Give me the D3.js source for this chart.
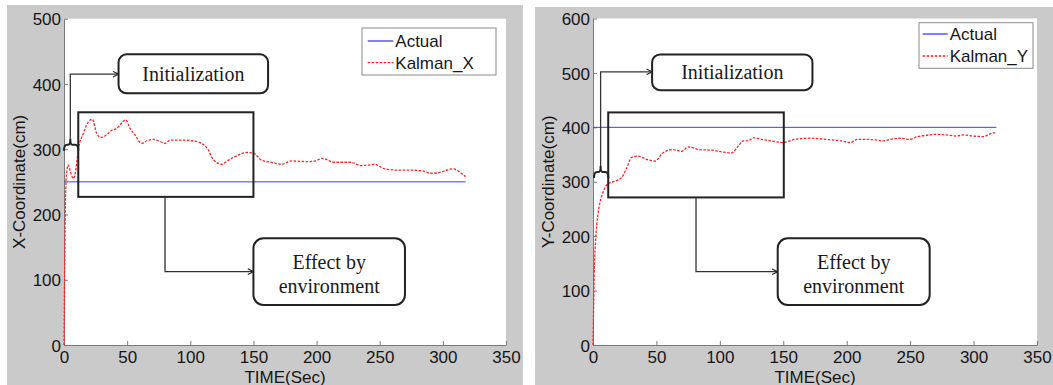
<!DOCTYPE html>
<html>
<head>
<meta charset="utf-8">
<script src="https://cdn.jsdelivr.net/npm/d3@7"></script>
<style>
  body { margin: 0; background: #fff; }
  svg { display: block; }
  .tick text { font-family: "Liberation Sans", Arial, sans-serif; font-size: 17px; fill: #161616; }
  .axis path, .axis line { stroke: #7a7a7a; }
  .lbl { font-family: "Liberation Sans", Arial, sans-serif; font-size: 17px; fill: #161616; }
  .note { font-family: "Liberation Serif", "Times New Roman", serif; font-size: 20px; fill: #1a1a1a; }
</style>
</head>
<body>
<svg id="chart" width="1053" height="385"></svg>
<script>
// ---- data ----
const xTicks = [0, 50, 100, 150, 200, 250, 300, 350];
const yTicksX = [0, 100, 200, 300, 400, 500];
const yTicksY = [0, 100, 200, 300, 400, 500, 600];

const actualTime = [0, 318];
const actualX = [250, 250];
const actualY = [400, 400];

const timeX = [0, 0.5, 1, 1.5, 2, 3.4, 5, 7.4, 9.5, 11.3, 15.3, 19.3, 22.4, 25.9, 29.3, 33.8,
  37.7, 41.7, 44.3, 48.8, 52.3, 56.2, 61.5, 65.5, 70.7, 76, 80, 84, 93.2, 101, 109, 114.3,
  118.2, 124.8, 130, 136.7, 144.6, 150, 156.5, 164.4, 172.3, 180.3, 193.4, 199, 204.4, 213.7,
  227, 235, 243, 245.7, 253.8, 264.4, 272.4, 283, 291.3, 296.5, 302, 307.3, 312.6, 315.3, 318];
const kalmanX = [0, 110, 200, 245, 262, 276, 266, 255, 270, 299, 324, 342, 346, 324, 318, 322,
  329, 332, 337, 345, 332, 322, 309, 313, 315, 312, 309, 314, 314, 313, 309, 299,
  284, 277, 283, 290, 295, 294, 283, 280, 277, 282, 281, 282, 286, 280,
  280, 275, 276, 277, 270, 268, 268, 267, 263, 264, 267, 270, 266, 262, 258];

const timeY = [0, 0.3, 0.7, 1.2, 2, 3, 4.2, 5.5, 8.1, 12.1, 17.3, 22.6, 26.5, 30.5, 35.7,
  42.3, 48.9, 54.6, 62.5, 69.9, 75.2, 84.3, 93.6, 101.4, 109.3, 114.6, 118.5, 122.4, 126.4,
  133, 140.9, 150, 159.2, 172.4, 182.9, 196, 202.8, 208.2, 212, 222.8, 228, 234.8, 241.4,
  249.4, 256, 265.4, 269.4, 278.7, 286.7, 292, 300, 308, 312, 316, 318];
const kalmanY = [0, 40, 100, 150, 190, 222, 245, 262, 282, 297, 301, 308, 325, 345, 347,
  341, 338, 352, 359, 356, 364, 359, 358, 355, 353, 366, 375, 375, 381,
  378, 375, 372, 378, 380, 378, 375, 372, 378, 378, 377, 375, 378, 380,
  378, 383, 386, 387, 386, 384, 386, 384, 383, 387, 390, 388];

// ---- panel setup ----
const panels = [
  {
    bg: { x: 7, y: 5, w: 516, h: 380 },
    plot: { x0: 64, x1: 506, y0: 18.7, y1: 345 },
    yMax: 500, yTicks: yTicksX,
    ylabel: 'X-Coordinate(cm)', ylabelX: 19,
    actual: actualX, est: kalmanX, estTime: timeX, estName: 'Kalman_X',
    legend: { x: 362, y: 28, w: 134, h: 47, l0: 367.7, l1: 393.3, r1: 41, r2: 62.7 },
    note: {
      bracket: { t0: 0, t1: 11.3, tm: 5, v: 307 }, initTop: 415,
      initBox: { t0: 43.2, t1: 161.6, v0: 385.7, v1: 445.4 },
      effRect: { t0: 11.3, t1: 150, v0: 227, v1: 356.6 },
      effLine: { t: 80, v: 112.4 },
      effBox: { t0: 150, t1: 270, v0: 61.3, v1: 163.5 }
    }
  },
  {
    bg: { x: 535, y: 7, w: 518, h: 378 },
    plot: { x0: 593, x1: 1037, y0: 18.5, y1: 345 },
    yMax: 600, yTicks: yTicksY,
    ylabel: 'Y-Coordinate(cm)', ylabelX: 548,
    actual: actualY, est: kalmanY, estTime: timeY, estName: 'Kalman_Y',
    legend: { x: 919, y: 22.7, w: 114, h: 45.6, l0: 922.7, l1: 947.7, r1: 34, r2: 56 },
    note: {
      bracket: { t0: 0.8, t1: 12.1, tm: 6, v: 318 }, initTop: 502,
      initBox: { t0: 46.6, t1: 173, v0: 468.3, v1: 533.9 },
      effRect: { t0: 12, t1: 150.4, v0: 271.2, v1: 427.4 },
      effLine: { t: 81.2, v: 134.7 },
      effBox: { t0: 145.6, t1: 265.4, v0: 73.5, v1: 196 }
    }
  }
];

const svg = d3.select('#chart');

const defs = svg.append('defs');
defs.append('marker')
  .attr('id', 'arr')
  .attr('viewBox', '0 0 10 10')
  .attr('refX', 9).attr('refY', 5)
  .attr('markerWidth', 7).attr('markerHeight', 7)
  .attr('markerUnits', 'userSpaceOnUse')
  .attr('orient', 'auto')
  .append('path')
  .attr('d', 'M1,1 L9,5 L1,9')
  .attr('fill', 'none')
  .attr('stroke', '#222')
  .attr('stroke-width', 1.6);

panels.forEach((p) => {
  const g = svg.append('g');

  g.append('rect')
    .attr('x', p.bg.x).attr('y', p.bg.y)
    .attr('width', p.bg.w).attr('height', p.bg.h)
    .attr('fill', '#cacaca');

  g.append('rect')
    .attr('x', p.plot.x0).attr('y', p.plot.y0)
    .attr('width', p.plot.x1 - p.plot.x0).attr('height', p.plot.y1 - p.plot.y0)
    .attr('fill', '#fff');

  const x = d3.scaleLinear().domain([0, 350]).range([p.plot.x0, p.plot.x1]);
  const y = d3.scaleLinear().domain([0, p.yMax]).range([p.plot.y1, p.plot.y0]);

  g.append('g')
    .attr('class', 'axis')
    .attr('transform', `translate(0,${p.plot.y1})`)
    .call(d3.axisBottom(x).tickValues(xTicks).tickSizeInner(-4).tickSizeOuter(0).tickPadding(6))
    .call((a) => a.select('.domain').attr('stroke', '#7a7a7a'));

  g.append('g')
    .attr('class', 'axis')
    .attr('transform', `translate(${p.plot.x0},0)`)
    .call(d3.axisLeft(y).tickValues(p.yTicks).tickSizeInner(-4).tickSizeOuter(0).tickPadding(3))
    .call((a) => a.selectAll('.tick text').attr('dy', '0.36em'));

  g.append('text')
    .attr('class', 'lbl')
    .attr('x', (p.plot.x0 + p.plot.x1) / 2)
    .attr('y', 382.5)
    .attr('text-anchor', 'middle')
    .text('TIME(Sec)');

  g.append('text')
    .attr('class', 'lbl')
    .attr('transform', `translate(${p.ylabelX},${(p.plot.y0 + p.plot.y1) / 2}) rotate(-90)`)
    .attr('text-anchor', 'middle')
    .attr('dy', '0.35em')
    .text(p.ylabel);

  // series
  const line = d3.line().x((d) => x(d[0])).y((d) => y(d[1]));

  g.append('path')
    .datum(actualTime.map((t, i) => [t, p.actual[i]]))
    .attr('d', line)
    .attr('fill', 'none')
    .attr('stroke', '#3b3bff')
    .attr('stroke-width', 1);

  g.append('path')
    .datum(p.estTime.map((t, i) => [t, p.est[i]]))
    .attr('d', d3.line().curve(d3.curveMonotoneX).x((d) => x(d[0])).y((d) => y(d[1])))
    .attr('fill', 'none')
    .attr('stroke', '#ff2020')
    .attr('stroke-width', 1.3)
    .attr('stroke-dasharray', '2.5,1.5');

  // legend
  const L = p.legend;
  g.append('rect')
    .attr('x', L.x).attr('y', L.y).attr('width', L.w).attr('height', L.h)
    .attr('fill', '#fff').attr('stroke', '#8a8a8a').attr('stroke-width', 1);
  g.append('line')
    .attr('x1', L.l0).attr('x2', L.l1).attr('y1', L.r1).attr('y2', L.r1)
    .attr('stroke', '#3b3bff').attr('stroke-width', 1.3);
  g.append('line')
    .attr('x1', L.l0).attr('x2', L.l1).attr('y1', L.r2).attr('y2', L.r2)
    .attr('stroke', '#ff2020').attr('stroke-width', 1.3).attr('stroke-dasharray', '2.5,1.5');
  g.append('text').attr('class', 'lbl').attr('x', L.l1 + 2).attr('y', L.r1).attr('dy', '0.36em').text('Actual');
  g.append('text').attr('class', 'lbl').attr('x', L.l1 + 2).attr('y', L.r2).attr('dy', '0.36em').text(p.estName);

  // annotations
  const n = p.note;
  const b = n.bracket;
  const bx0 = x(b.t0), bx1 = x(b.t1), bxm = x(b.tm), by = y(b.v);
  g.append('path')
    .attr('d', `M${bx0},${by + 6} Q${bx0},${by} ${bx0 + 3},${by} L${bxm - 2},${by} Q${bxm},${by} ${bxm},${by - 6} Q${bxm},${by} ${bxm + 2},${by} L${bx1 - 3},${by} Q${bx1},${by} ${bx1},${by + 6}`)
    .attr('fill', 'none').attr('stroke', '#222').attr('stroke-width', 2);

  g.append('path')
    .attr('d', `M${bxm},${by - 6} L${bxm},${y(n.initTop)} L${x(n.initBox.t0)},${y(n.initTop)}`)
    .attr('fill', 'none').attr('stroke', '#333').attr('stroke-width', 1.3)
    .attr('marker-end', 'url(#arr)');

  const ib = n.initBox;
  g.append('rect')
    .attr('x', x(ib.t0)).attr('y', y(ib.v1))
    .attr('width', x(ib.t1) - x(ib.t0)).attr('height', y(ib.v0) - y(ib.v1))
    .attr('rx', 8).attr('fill', '#fff').attr('stroke', '#222').attr('stroke-width', 2);
  g.append('text').attr('class', 'note')
    .attr('x', (x(ib.t0) + x(ib.t1)) / 2).attr('y', (y(ib.v0) + y(ib.v1)) / 2)
    .attr('text-anchor', 'middle').attr('dy', '0.35em')
    .text('Initialization');

  const er = n.effRect;
  g.append('rect')
    .attr('x', x(er.t0)).attr('y', y(er.v1))
    .attr('width', x(er.t1) - x(er.t0)).attr('height', y(er.v0) - y(er.v1))
    .attr('fill', 'none').attr('stroke', '#222').attr('stroke-width', 2);

  const eb = n.effBox;
  g.append('path')
    .attr('d', `M${x(n.effLine.t)},${y(er.v0)} L${x(n.effLine.t)},${y(n.effLine.v)} L${x(eb.t0)},${y(n.effLine.v)}`)
    .attr('fill', 'none').attr('stroke', '#333').attr('stroke-width', 1.3)
    .attr('marker-end', 'url(#arr)');

  g.append('rect')
    .attr('x', x(eb.t0)).attr('y', y(eb.v1))
    .attr('width', x(eb.t1) - x(eb.t0)).attr('height', y(eb.v0) - y(eb.v1))
    .attr('rx', 10).attr('fill', '#fff').attr('stroke', '#222').attr('stroke-width', 2);
  const ecx = (x(eb.t0) + x(eb.t1)) / 2, ecy = (y(eb.v0) + y(eb.v1)) / 2;
  g.append('text').attr('class', 'note')
    .attr('x', ecx).attr('y', ecy - 10).attr('text-anchor', 'middle').attr('dy', '0.35em')
    .text('Effect by');
  g.append('text').attr('class', 'note')
    .attr('x', ecx).attr('y', ecy + 14).attr('text-anchor', 'middle').attr('dy', '0.35em')
    .text('environment');
});
</script>
</body>
</html>
